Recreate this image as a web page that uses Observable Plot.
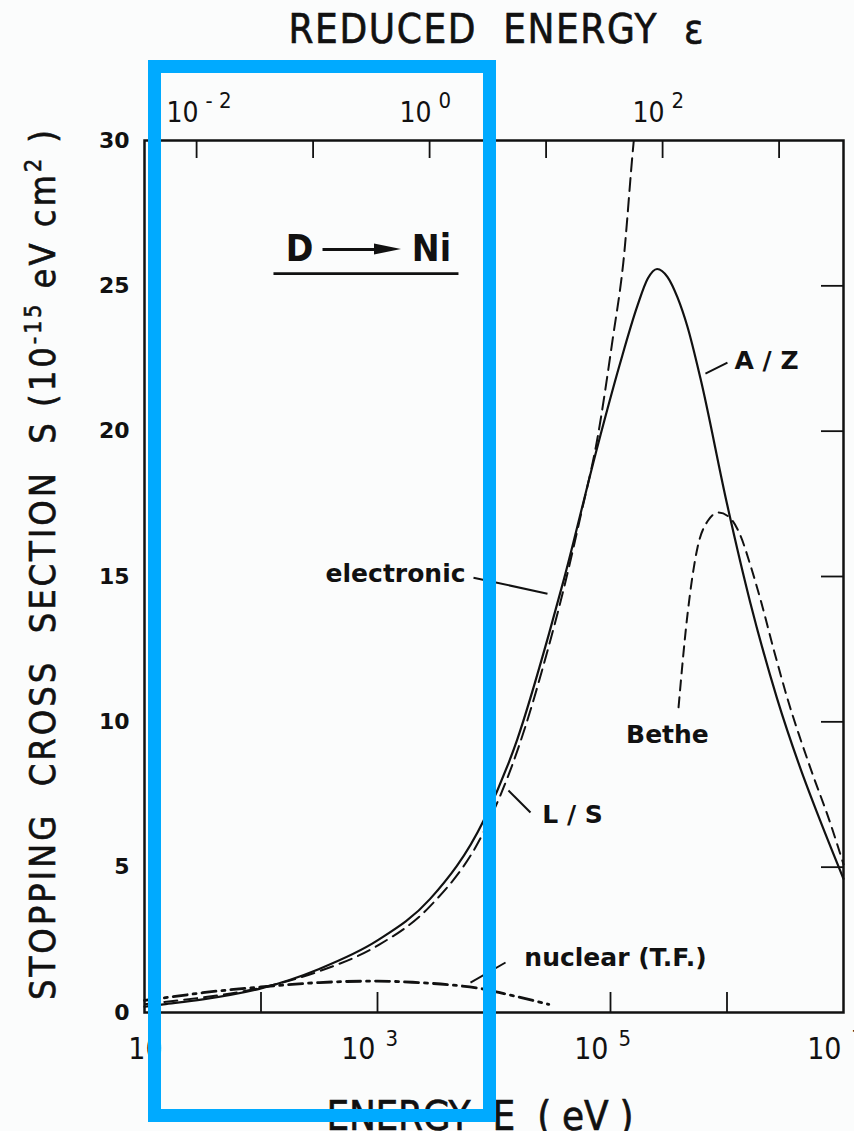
<!DOCTYPE html>
<html><head><meta charset="utf-8">
<script src="https://cdn.jsdelivr.net/npm/d3@7"></script>
<script src="https://cdn.jsdelivr.net/npm/@observablehq/plot@0.6"></script>
<style>
html,body{margin:0;padding:0;background:#fbfcfc;}
#wrap{position:relative;width:854px;height:1131px;overflow:hidden;background:#fbfcfc;}
#wrap svg{position:absolute;left:0;top:0;}
#blue{position:absolute;left:148px;top:60px;width:322px;height:1036px;border:13px solid #00aaff;z-index:2;}
</style></head><body><div id="wrap"><div id="blue"></div></div>
<script>
// ---- data (log10 of energy in eV, stopping cross section S in 1e-15 eV cm^2) ----
const electronicLogE = [1.0, 1.163, 1.5, 2.0, 2.5, 3.0, 3.45, 3.91, 4.2, 4.47, 4.6, 4.89, 5.08, 5.23, 5.32, 5.40, 5.49, 5.575, 5.66, 5.773, 6.0, 6.2, 6.43, 6.63, 6.8, 7.0];
const electronicS  = [0.2, 0.28, 0.45, 0.83, 1.5, 2.48, 3.9, 6.6, 9.4, 13.0, 14.9, 19.5, 22.3, 24.3, 25.25, 25.58, 25.3, 24.6, 23.6, 21.8, 17.5, 14.1, 10.8, 8.4, 6.6, 4.6];

const lsLogE = [1.0, 1.163, 1.5, 2.0, 2.5, 3.0, 3.45, 3.91, 4.2, 4.47, 4.6, 4.75, 4.89, 5.02, 5.11, 5.20, 5.24];
const lsS    = [0.28, 0.36, 0.52, 0.85, 1.42, 2.3, 3.65, 6.2, 9.0, 12.6, 14.6, 17.2, 19.8, 23.2, 25.8, 30.0, 31.5];

const betheLogE = [5.584, 5.661, 5.747, 5.833, 5.927, 6.03, 6.116, 6.2, 6.288, 6.4, 6.519, 6.717, 6.888, 7.0];
const betheS    = [10.5, 13.7, 16.0, 16.9, 17.2, 17.0, 16.4, 15.4, 14.2, 12.5, 10.8, 8.4, 6.5, 5.1];

const nuclearLogE = [1.0, 1.163, 1.5, 2.0, 2.5, 3.0, 3.3, 3.6, 3.88, 4.16, 4.47];
const nuclearS    = [0.42, 0.5, 0.68, 0.88, 1.03, 1.08, 1.04, 0.96, 0.83, 0.58, 0.28];

// ---- axes / ticks ----
const yTickLabels = [0, 5, 10, 15, 20, 25, 30];
const rightTicks = [5, 10, 15, 20, 25];
const bottomTickExp = [2, 3, 4, 5, 6];
const bottomLabelExp = [3, 5, 7];
const epsToEnergy = 2800;           // eV per unit of reduced energy
const epsTickExp = [-2, -1, 0, 1, 2, 3];
const epsLabelExp = [-2, 0, 2];

// ---- annotations (log10 E, S) ----
const curveLabels = [
  {t: "electronic", lx: 3.155, s: 15.10},
  {t: "A / Z", lx: 6.339, s: 22.43},
  {t: "Bethe", lx: 5.489, s: 9.53},
  {t: "L / S", lx: 4.674, s: 6.78},
  {t: "nuclear (T.F.)", lx: 5.043, s: 1.89}
];
const leaders = [
  {lx1: 3.824, s1: 14.96, lx2: 4.459, s2: 14.41},
  {lx1: 5.815, s1: 21.98, lx2: 6.004, s2: 22.36},
  {lx1: 4.124, s1: 7.64, lx2: 4.313, s2: 6.88},
  {lx1: 3.798, s1: 1.03, lx2: 4.099, s2: 1.72}
];
const reactionText = [{t: "D", lx: 2.3305, s: 26.25}, {t: "Ni", lx: 3.4635, s: 26.25}];
const reactionArrow = {lx1: 2.528, lx2: 3.206, s: 26.25};
const reactionUnderline = {lx1: 2.107, lx2: 3.695, s: 25.42};

const rows = (lx, s) => lx.map((v, i) => ({E: 10 ** v, S: s[i]}));
const NARROW = "'Liberation Sans Narrow', 'DejaVu Sans Condensed', sans-serif";
const INK = "#111";
const FH = 872, FW = 699;

const chart = Plot.plot({
  width: 854, height: 1131,
  marginLeft: 144, marginRight: 11, marginTop: 140, marginBottom: 119,
  style: {background: "transparent", overflow: "visible"},
  x: {type: "log", domain: [10, 1e7], axis: null},
  y: {domain: [0, 30], axis: null},
  marks: [
    Plot.tickX(bottomTickExp.map(k => 10 ** k), {stroke: INK, strokeWidth: 1.8, insetTop: FH - 20}),
    Plot.tickX(epsTickExp.map(k => epsToEnergy * 10 ** k), {stroke: INK, strokeWidth: 1.8, insetBottom: FH - 18}),
    Plot.tickY(rightTicks, {stroke: INK, strokeWidth: 1.8, insetLeft: FW - 22}),
    Plot.frame({stroke: INK, strokeWidth: 2.5}),
    Plot.line(rows(nuclearLogE, nuclearS), {x: "E", y: "S", curve: "monotone-x", stroke: INK, strokeWidth: 2.8, strokeDasharray: "14,6,3,6"}),
    Plot.line(rows(lsLogE, lsS), {x: "E", y: "S", curve: "monotone-x", stroke: INK, strokeWidth: 2, strokeDasharray: "13,7", clip: true}),
    Plot.line(rows(betheLogE, betheS), {x: "E", y: "S", curve: "monotone-x", stroke: INK, strokeWidth: 2, strokeDasharray: "10,7"}),
    Plot.line(rows(electronicLogE, electronicS), {x: "E", y: "S", curve: "monotone-x", stroke: INK, strokeWidth: 2.2}),
    // y tick labels
    Plot.text(yTickLabels, {y: d => d, frameAnchor: "left", textAnchor: "end", lineAnchor: "middle", dx: -15, text: d => String(d), fontSize: 22, fontWeight: "bold", fontFamily: "DejaVu Sans", fill: INK}),
    // bottom labels
    Plot.text([10], {x: d => d, frameAnchor: "bottom", lineAnchor: "middle", dy: 37, dx: 1, text: () => "10", fontSize: 30, fontFamily: NARROW, fill: INK}),
    Plot.text(bottomLabelExp, {x: d => 10 ** d, frameAnchor: "bottom", lineAnchor: "middle", dy: 37, dx: -2, textAnchor: "end", text: () => "10", fontSize: 30, fontFamily: NARROW, fill: INK}),
    Plot.text(bottomLabelExp, {x: d => 10 ** d, frameAnchor: "bottom", lineAnchor: "middle", dy: 26, dx: 8, textAnchor: "start", text: d => String(d), fontSize: 22, fontFamily: NARROW, fill: INK}),
    // top labels (reduced energy)
    Plot.text(epsLabelExp, {x: d => epsToEnergy * 10 ** d, frameAnchor: "top", lineAnchor: "middle", dy: -27, dx: 2, textAnchor: "end", text: () => "10", fontSize: 28, fontFamily: NARROW, fill: INK}),
    Plot.text(epsLabelExp, {x: d => epsToEnergy * 10 ** d, frameAnchor: "top", lineAnchor: "middle", dy: -40, dx: 9, textAnchor: "start", text: d => d < 0 ? "- " + (-d) : String(d), fontSize: 22, fontFamily: NARROW, fill: INK}),
    // annotations
    Plot.link(leaders, {x1: d => 10 ** d.lx1, y1: "s1", x2: d => 10 ** d.lx2, y2: "s2", stroke: INK, strokeWidth: 2}),
    Plot.text(curveLabels, {x: d => 10 ** d.lx, y: "s", text: "t", fontSize: 25, fontWeight: "bold", fontFamily: "DejaVu Sans", fill: INK, ariaLabel: "curve-labels"}),
    Plot.text(reactionText, {x: d => 10 ** d.lx, y: "s", text: "t", fontSize: 37, fontWeight: "bold", fontFamily: "DejaVu Sans Condensed, DejaVu Sans", fill: INK}),
    Plot.link([reactionArrow], {x1: d => 10 ** d.lx1, x2: d => 10 ** d.lx2 * 0.8, y1: "s", y2: "s", stroke: INK, strokeWidth: 3}),
    Plot.link([reactionUnderline], {x1: d => 10 ** d.lx1, x2: d => 10 ** d.lx2, y1: "s", y2: "s", stroke: INK, strokeWidth: 2.6})
  ]
});

const wrap = document.getElementById("wrap");
wrap.insertBefore(chart, wrap.firstChild);
const svg = d3.select(chart);
svg.selectAll('g[aria-label="curve-labels"] text').attr("letter-spacing", 2.5);

const xs = chart.scale("x"), ys = chart.scale("y");
// arrow head
const tipX = xs.apply(10 ** reactionArrow.lx2), tipY = ys.apply(reactionArrow.s);
svg.append("path").attr("d", `M${tipX},${tipY} L${tipX - 27},${tipY - 5.5} L${tipX - 27},${tipY + 5.5} Z`).attr("fill", INK);

// titles
svg.append("text").attr("x", 496).attr("y", 43).attr("text-anchor", "middle")
  .attr("font-family", NARROW).attr("font-size", 40).attr("fill", INK).attr("stroke", INK).attr("stroke-width", 0.6)
  .attr("textLength", 415).attr("lengthAdjust", "spacing").text("REDUCED  ENERGY  ε");
svg.append("text").attr("x", 480).attr("y", 1130).attr("text-anchor", "middle")
  .attr("font-family", NARROW).attr("font-size", 40).attr("fill", INK).attr("stroke", INK).attr("stroke-width", 0.6)
  .attr("textLength", 307).attr("lengthAdjust", "spacing").text("ENERGY  E  ( eV )");
const yt = svg.append("text").attr("transform", "translate(55,565) rotate(-90)").attr("text-anchor", "middle")
  .attr("font-family", NARROW).attr("font-size", 36).attr("fill", INK).attr("stroke", INK).attr("stroke-width", 0.6)
  .attr("textLength", 870).attr("lengthAdjust", "spacing");
yt.append("tspan").text("STOPPING  CROSS  SECTION  S (10");
yt.append("tspan").attr("dy", -14).attr("font-size", 23).text("-15");
yt.append("tspan").attr("dy", 14).text(" eV cm");
yt.append("tspan").attr("dy", -14).attr("font-size", 23).text("2");
yt.append("tspan").attr("dy", 14).text(" )");
</script>
</body></html>
